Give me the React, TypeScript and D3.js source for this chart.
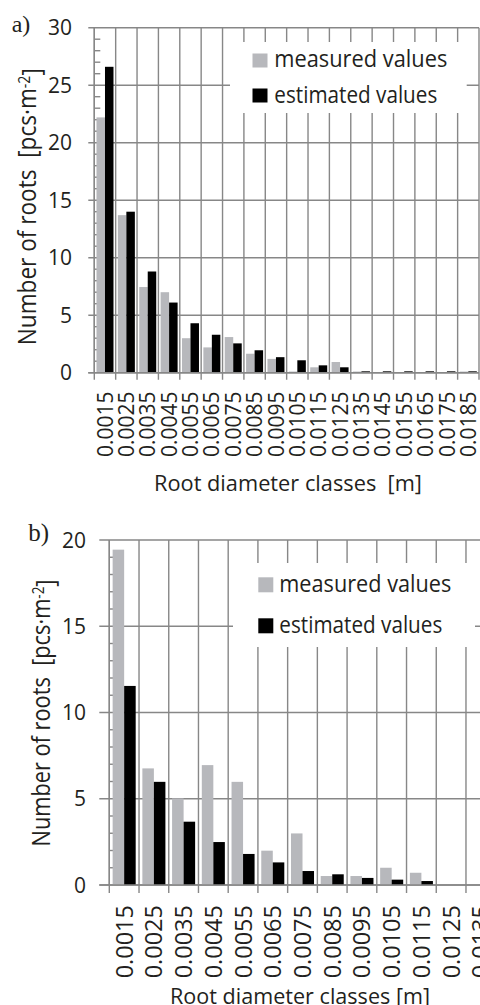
import React from 'react';
import * as d3 from 'd3';

// ---------- DATA ----------
const categoriesA = ["0.0015","0.0025","0.0035","0.0045","0.0055","0.0065","0.0075","0.0085","0.0095","0.0105","0.0115","0.0125","0.0135","0.0145","0.0155","0.0165","0.0175","0.0185"];
const measuredA = [22.2, 13.7, 7.45, 7.0, 3.0, 2.2, 3.1, 1.65, 1.2, 0.1, 0.47, 0.93, 0.1, 0, 0, 0, 0, 0.1];
const estimatedA = [26.6, 14.0, 8.8, 6.1, 4.3, 3.3, 2.55, 1.95, 1.35, 1.08, 0.64, 0.47, 0.12, 0.12, 0.12, 0.12, 0.12, 0.12];
const yTicksA = [0, 5, 10, 15, 20, 25, 30];

const categoriesB = ["0.0015","0.0025","0.0035","0.0045","0.0055","0.0065","0.0075","0.0085","0.0095","0.0105","0.0115","0.0125","0.0135"];
const measuredB = [19.44, 6.76, 5.02, 6.95, 5.98, 1.99, 2.99, 0.52, 0.52, 1.0, 0.71, 0, 0];
const estimatedB = [11.54, 5.98, 3.67, 2.49, 1.8, 1.31, 0.81, 0.62, 0.41, 0.31, 0.23, 0, 0];
const yTicksB = [0, 5, 10, 15, 20];

const seriesKeys = ["measured", "estimated"];
const seriesNames = ["measured values", "estimated values"];
const seriesColors = ["#b7b8bc", "#000000"];
const xTitleA = "Root diameter classes  [m]";
const xTitleB = "Root diameter classes [m]";
const yTitleMain = "Number of roots  [pcs\u00B7m";
const yTitleSup = "-2";
const yTitleEnd = "]";
const panelLabels = ["a)", "b)"];

// ---------- LAYOUT ----------
const FONT = "'Open Sans', sans-serif";
const GRID = "#878787";

type Layout = {
  x0: number; x1: number; y0: number; y1: number;
  major: number; minor: number; xTick: number; po: number;
  yLabelX: number; yLabelSize: number; xLabelY: number; xLabelSize: number;
  box: [number, number, number, number];
  sqX: number; sqW: number; sqH: number; sqY: [number, number];
  textX: number; baselines: [number, number]; textLens: [number, number]; legendSize: number;
  xtX: number; xtY: number; xtLen: number; xtSize: number;
  ytX: number; ytY: number; ytLen: number; ytSize: number;
  plX: number; plY: number; plSize: number;
};

const layoutA: Layout = {
  x0: 94.3, x1: 479, y0: 372.7, y1: 27.7,
  major: 6, minor: 6, xTick: 7, po: 0.257,
  yLabelX: 72, yLabelSize: 21, xLabelY: 391.5, xLabelSize: 21,
  box: [230, 42, 236.7, 71],
  sqX: 252.5, sqW: 15, sqH: 14, sqY: [53.5, 88.5],
  textX: 274.3, baselines: [66.7, 102.7], textLens: [173, 163], legendSize: 23,
  xtX: 288, xtY: 490.7, xtLen: 268, xtSize: 22,
  ytX: 36, ytY: 206.7, ytLen: 277, ytSize: 25,
  plX: 11.7, plY: 31.5, plSize: 24,
};

const layoutB: Layout = {
  x0: 109.3, x1: 495.7, y0: 885, y1: 540,
  major: 10, minor: 6, xTick: 8, po: 0.29,
  yLabelX: 86, yLabelSize: 21, xLabelY: 905, xLabelSize: 23.5,
  box: [233, 563, 242, 84],
  sqX: 258.3, sqW: 15, sqH: 15, sqY: [577.3, 618.3],
  textX: 279.3, baselines: [591.7, 632.7], textLens: [172, 163], legendSize: 23,
  xtX: 300, xtY: 1004, xtLen: 260, xtSize: 22,
  ytX: 50, ytY: 713, ytLen: 267, ytSize: 25,
  plX: 28.3, plY: 541, plSize: 25,
};

function Chart({ cats, measured, estimated, yTicks, xTitle, label, L }: {
  cats: string[]; measured: number[]; estimated: number[]; yTicks: number[];
  xTitle: string; label: string; L: Layout;
}) {
  const x = d3.scaleBand<string>().domain(cats).range([L.x0, L.x1]).padding(0);
  const inner = d3.scaleBand<string>().domain(seriesKeys).range([0, x.bandwidth()])
    .paddingInner(0).paddingOuter(L.po);
  const yMax = yTicks[yTicks.length - 1];
  const y = d3.scaleLinear().domain([0, yMax]).range([L.y0, L.y1]);
  const minorTicks = y.ticks(yMax).filter((v) => !yTicks.includes(v));
  const bounds = cats.map((c) => x(c) as number).concat([L.x1]);
  const values = [measured, estimated];
  const sw = 1.4;

  return (
    <g>
      {/* horizontal gridlines + major ticks */}
      {yTicks.map((t) => (
        <line key={'h' + t} x1={L.x0 - L.major} x2={L.x1} y1={y(t)} y2={y(t)} stroke={GRID} strokeWidth={sw} />
      ))}
      {/* vertical gridlines + x ticks */}
      {bounds.map((bx, i) => (
        <line key={'v' + i} x1={bx} x2={bx} y1={L.y1} y2={L.y0 + L.xTick} stroke={GRID} strokeWidth={sw} />
      ))}
      {/* minor ticks inside */}
      {minorTicks.map((t) => (
        <line key={'m' + t} x1={L.x0} x2={L.x0 + L.minor} y1={y(t)} y2={y(t)} stroke={GRID} strokeWidth={sw} />
      ))}
      {/* legend box */}
      <rect x={L.box[0]} y={L.box[1]} width={L.box[2]} height={L.box[3]} fill="#ffffff" />
      {seriesNames.map((n, i) => (
        <g key={n}>
          <rect x={L.sqX} y={L.sqY[i]} width={L.sqW} height={L.sqH} fill={seriesColors[i]} />
          <text x={L.textX} y={L.baselines[i]} fontFamily={FONT} fontSize={L.legendSize} fill="#231f20"
            textLength={L.textLens[i]} lengthAdjust="spacingAndGlyphs">{n}</text>
        </g>
      ))}
      {/* bars */}
      {cats.map((c, ci) => (
        <g key={'b' + c}>
          {seriesKeys.map((k, si) => {
            const v = values[si][ci];
            if (!v) return null;
            const bx = (x(c) as number) + (inner(k) as number);
            return <rect key={k} x={bx} y={y(v)} width={inner.bandwidth()} height={y(0) - y(v)} fill={seriesColors[si]} />;
          })}
        </g>
      ))}
      {/* axes */}
      <line x1={L.x0} x2={L.x0} y1={L.y1} y2={L.y0} stroke={GRID} strokeWidth={sw} />
      <line x1={L.x0 - L.major} x2={L.x1} y1={L.y0} y2={L.y0} stroke={GRID} strokeWidth={sw} />
      {/* y tick labels */}
      {yTicks.map((t) => (
        <text key={'yl' + t} x={L.yLabelX} y={y(t)} dy="0.36em" textAnchor="end" fontFamily={FONT}
          fontSize={L.yLabelSize} fill="#231f20">{t}</text>
      ))}
      {/* x tick labels */}
      {cats.map((c) => (
        <text key={'xl' + c} transform={`translate(${(x(c) as number) + x.bandwidth() / 2},${L.xLabelY}) rotate(-90)`}
          dy="0.36em" textAnchor="end" fontFamily={FONT} fontSize={L.xLabelSize} fill="#231f20">{c}</text>
      ))}
      {/* x title */}
      <text x={L.xtX} y={L.xtY} textAnchor="middle" fontFamily={FONT} fontSize={L.xtSize} fill="#231f20"
        style={{ whiteSpace: 'pre' }} textLength={L.xtLen} lengthAdjust="spacingAndGlyphs">{xTitle}</text>
      {/* y title */}
      <text transform={`translate(${L.ytX},${L.ytY}) rotate(-90)`} textAnchor="middle" fontFamily={FONT}
        fontSize={L.ytSize} fill="#231f20" style={{ whiteSpace: 'pre' }} textLength={L.ytLen} lengthAdjust="spacingAndGlyphs">
        {yTitleMain}<tspan dy="-0.42em" fontSize={L.ytSize * 0.62}>{yTitleSup}</tspan><tspan dy="0.42em">{yTitleEnd}</tspan>
      </text>
      {/* panel label */}
      <text x={L.plX} y={L.plY} fontFamily="'Liberation Serif', serif" fontSize={L.plSize} fill="#231f20">{label}</text>
    </g>
  );
}

export default function App() {
  return (
    <svg width={480} height={1005} viewBox="0 0 480 1005"
      style={{ position: 'absolute', left: 0, top: 0, background: '#ffffff', display: 'block' }}>
      <rect x={0} y={0} width={480} height={1005} fill="#ffffff" />
      <Chart cats={categoriesA} measured={measuredA} estimated={estimatedA} yTicks={yTicksA}
        xTitle={xTitleA} label={panelLabels[0]} L={layoutA} />
      <Chart cats={categoriesB} measured={measuredB} estimated={estimatedB} yTicks={yTicksB}
        xTitle={xTitleB} label={panelLabels[1]} L={layoutB} />
    </svg>
  );
}
